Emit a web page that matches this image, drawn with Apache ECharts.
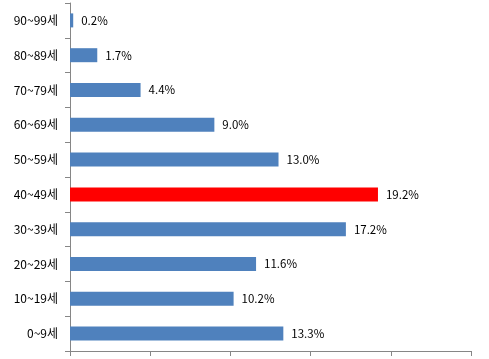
<!DOCTYPE html>
<html><head><meta charset="utf-8">
<script src="https://cdn.jsdelivr.net/npm/echarts@6/dist/echarts.min.js"></script>
<style>html,body{margin:0;padding:0;background:#fff}#c{width:489px;height:359px}</style>
</head><body><div id="c"></div>
<script>
const categories = ['0~9세','10~19세','20~29세','30~39세','40~49세','50~59세','60~69세','70~79세','80~89세','90~99세'];
const values = [13.3, 10.2, 11.6, 17.2, 19.2, 13.0, 9.0, 4.4, 1.7, 0.2];
const highlightCategory = '40~49세';
const axisMax = 25;
const axisStep = 5;

const chart = echarts.init(document.getElementById('c'), null, {renderer:'canvas'});
const font = "'Noto Sans CJK KR', sans-serif";
chart.setOption({
  animation:false,
  grid:{left:70, right:18, top:3, bottom:8, containLabel:false},
  xAxis:{type:'value', min:0, max:axisMax, interval:axisStep,
    axisLine:{show:true, lineStyle:{color:'#868686', width:1}},
    axisTick:{show:true, length:5, lineStyle:{color:'#868686'}},
    axisLabel:{show:false}, splitLine:{show:false}},
  yAxis:{type:'category', data:categories,
    axisLine:{show:true, lineStyle:{color:'#868686', width:1}},
    axisTick:{show:true, length:5, inside:false, lineStyle:{color:'#868686'}},
    axisLabel:{color:'#000', fontSize:12, fontFamily:font, margin:12}},
  series:[{type:'bar', barWidth:14,
    data: values.map((v,i)=>({value:v, itemStyle:{color: categories[i]===highlightCategory ? '#FF0000' : '#4F81BD'}})),
    label:{show:true, position:'right', distance:8, color:'#000', fontSize:11.5, fontFamily:font,
      formatter:p=>p.value.toFixed(1)+'%'}}]
});
</script></body></html>
